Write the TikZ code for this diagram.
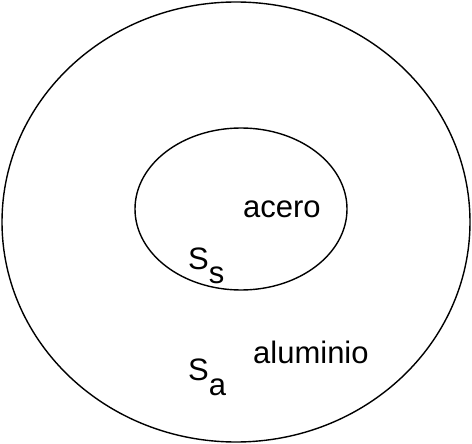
\documentclass[tikz,border=0pt]{standalone}
\usepackage{fontspec}
\setmainfont{Liberation Sans}
\usepackage{tikz}
\tikzstyle{bound}=[draw=black, line width=1.4pt]
\tikzstyle{lbl}=[anchor=base west, inner sep=0pt, font=\fontsize{31}{31}\selectfont]
\newcommand{\subidx}[1]{\raisebox{-15pt}{#1}}

\begin{document}
\begin{tikzpicture}[x=1pt,y=-1pt]
\useasboundingbox (0,0) rectangle (472,444);

\draw[bound] (236,222) ellipse (234 and 220);
\draw[bound] (241,209) ellipse (106 and 81);

\node[lbl] (acero) at (243,218) {acero};
\node[lbl] (ss) at (188,269) {S\subidx{s}};
\node[lbl] (aluminio) at (253,363) {aluminio};
\node[lbl] (sa) at (188,380) {S\subidx{a}};

\end{tikzpicture}
\end{document}
